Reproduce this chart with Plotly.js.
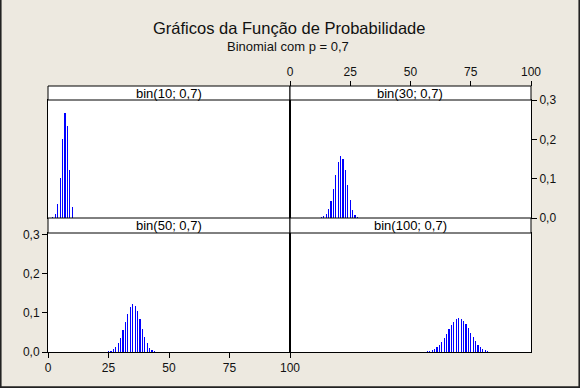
<!DOCTYPE html>
<html>
<head>
<meta charset="utf-8">
<script src="https://cdn.plot.ly/plotly-3.0.1.min.js"></script>
<style>html,body{margin:0;padding:0;background:#EDE9E0;}#chart{width:580px;height:388px;}</style>
</head>
<body>
<div id="chart"></div>
<script>
// ---- data ----
const k10 = [0,1,2,3,4,5,6,7,8,9,10];
const p10 = [0.0000059,0.000138,0.001447,0.009002,0.036757,0.102919,0.200121,0.266828,0.233474,0.121061,0.028248];

const k30 = [11,12,13,14,15,16,17,18,19,20,21,22,23,24,25,26,27,28,29,30];
const p30 = [0.000126,0.000464,0.001499,0.004246,0.010567,0.02312,0.04442,0.07485,0.11031,0.14156,0.15729,0.15014,0.12185,0.08293,0.04644,0.02084,0.007204,0.001801,0.00029,0.0000225];

const k50 = [23,24,25,26,27,28,29,30,31,32,33,34,35,36,37,38,39,40,41,42,43,44,45,46];
const p50 = [0.000226,0.000592,0.001436,0.003223,0.006684,0.01281,0.02268,0.03704,0.05575,0.07724,0.09831,0.11469,0.12234,0.11894,0.10501,0.08383,0.06018,0.03862,0.02198,0.01099,0.004771,0.001771,0.000551,0.00014];

const k100 = [55,56,57,58,59,60,61,62,63,64,65,66,67,68,69,70,71,72,73,74,75,76,77,78,79,80,81,82,83,84,85];
const p100 = [0.000549,0.001029,0.001853,0.003206,0.005325,0.00849,0.01299,0.01907,0.02684,0.0362,0.04678,0.05788,0.06854,0.07761,0.08398,0.08678,0.08556,0.08041,0.07196,0.06127,0.04956,0.03804,0.02767,0.01904,0.01237,0.007576,0.004365,0.00236,0.001194,0.000564,0.000248];

const panelLabels = ['bin(10; 0,7)','bin(30; 0,7)','bin(50; 0,7)','bin(100; 0,7)'];
const xTickVals = [0,25,50,75,100];
const xTickText = ['0','25','50','75','100'];
const yTickVals = [0,0.1,0.2,0.3];
const yTickText = ['0,0','0,1','0,2','0,3'];
const titleText = 'Gráficos da Função de Probabilidade';
const subtitleText = 'Binomial com p = 0,7';

// ---- geometry (pixels) ----
const W = 580, H = 388;
const px = v => v / W;
const py = v => 1 - v / H;
const xL = [px(48), px(290)], xR = [px(290), px(531)];
const yTop = [py(218), py(100)], yBot = [py(352), py(233)];

const FONT = 'Liberation Sans, Arial, sans-serif';
const BLUE = '#0000FF';
const barW = 0.5;

function bars(k, p, xa, ya) {
  return {type:'bar', x:k, y:p, xaxis:xa, yaxis:ya, width:barW,
          marker:{color:BLUE, line:{width:0}}, hoverinfo:'skip', showlegend:false};
}

const data = [
  bars(k10, p10, 'x3', 'y3'),
  bars(k30, p30, 'x4', 'y4'),
  bars(k50, p50, 'x', 'y'),
  bars(k100, p100, 'x2', 'y2'),
  // carrier for the top tick axis sitting above the strip
  {type:'scatter', x:[], y:[], xaxis:'x5', yaxis:'y4', mode:'markers', showlegend:false, hoverinfo:'skip'}
];

const baseAx = {showgrid:false, zeroline:false, showline:true, mirror:true,
                linecolor:'#000', linewidth:1, fixedrange:true,
                tickfont:{family:FONT, size:12, color:'#111'}};
const hidden = {ticks:'', showticklabels:false};
const xTicks = {ticks:'outside', ticklen:5, tickwidth:1, tickcolor:'#000',
                tickmode:'array', tickvals:xTickVals, ticktext:xTickText};
const yTicks = {ticks:'outside', ticklen:5, tickwidth:1, tickcolor:'#000',
                tickmode:'array', tickvals:yTickVals, ticktext:yTickText};

const layout = {
  width: W, height: H,
  margin:{l:0,r:0,t:0,b:0},
  paper_bgcolor:'#EDE9E0', plot_bgcolor:'#FFFFFF',
  bargap:0,
  showlegend:false,
  xaxis: Object.assign({}, baseAx, xTicks, {domain:xL, range:[0,100], anchor:'y', side:'bottom'}),
  yaxis: Object.assign({}, baseAx, yTicks, {domain:yBot, range:[0,0.305], anchor:'x', side:'left'}),
  xaxis2: Object.assign({}, baseAx, hidden, {domain:xR, range:[0,100], anchor:'y2'}),
  yaxis2: Object.assign({}, baseAx, hidden, {domain:yBot, range:[0,0.305], anchor:'x2'}),
  xaxis3: Object.assign({}, baseAx, hidden, {domain:xL, range:[0,100], anchor:'y3'}),
  yaxis3: Object.assign({}, baseAx, hidden, {domain:yTop, range:[0,0.3], anchor:'x3'}),
  xaxis4: Object.assign({}, baseAx, hidden, {domain:xR, range:[0,100], anchor:'y4'}),
  yaxis4: Object.assign({}, baseAx, yTicks, {domain:yTop, range:[0,0.3], anchor:'x4', side:'right'}),
  xaxis5: Object.assign({}, baseAx, xTicks, {domain:xR, range:[0,100], anchor:'free', position:py(86),
                        side:'top', overlaying:'x4', showline:false, mirror:false}),
  shapes: [
    {type:'rect', xref:'paper', yref:'paper', x0:xL[0], x1:xL[1], y0:py(100), y1:py(86), fillcolor:'#fff', line:{color:'#000', width:1}},
    {type:'rect', xref:'paper', yref:'paper', x0:xR[0], x1:xR[1], y0:py(100), y1:py(86), fillcolor:'#fff', line:{color:'#000', width:1}},
    {type:'rect', xref:'paper', yref:'paper', x0:xL[0], x1:xL[1], y0:py(233), y1:py(218), fillcolor:'#fff', line:{color:'#000', width:1}},
    {type:'rect', xref:'paper', yref:'paper', x0:xR[0], x1:xR[1], y0:py(233), y1:py(218), fillcolor:'#fff', line:{color:'#000', width:1}},
    {type:'line', xref:'paper', yref:'paper', x0:0.001, x1:0.001, y0:0, y1:1, line:{color:'#222', width:2}},
    {type:'line', xref:'paper', yref:'paper', x0:0.999, x1:0.999, y0:0, y1:1, line:{color:'#222', width:2}},
    {type:'line', xref:'paper', yref:'paper', x0:0, x1:1, y0:0.002, y1:0.002, line:{color:'#222', width:2}}
  ],
  annotations: [
    {text:titleText, xref:'paper', yref:'paper', x:px(289), y:py(28), xanchor:'center', yanchor:'middle', showarrow:false, font:{family:FONT, size:16.5, color:'#111'}},
    {text:subtitleText, xref:'paper', yref:'paper', x:px(288), y:py(46), xanchor:'center', yanchor:'middle', showarrow:false, font:{family:FONT, size:13, color:'#111'}},
    {text:panelLabels[0], xref:'paper', yref:'paper', x:(xL[0]+xL[1])/2, y:py(93), xanchor:'center', yanchor:'middle', showarrow:false, font:{family:FONT, size:13, color:'#000'}},
    {text:panelLabels[1], xref:'paper', yref:'paper', x:(xR[0]+xR[1])/2, y:py(93), xanchor:'center', yanchor:'middle', showarrow:false, font:{family:FONT, size:13, color:'#000'}},
    {text:panelLabels[2], xref:'paper', yref:'paper', x:(xL[0]+xL[1])/2, y:py(225.5), xanchor:'center', yanchor:'middle', showarrow:false, font:{family:FONT, size:13, color:'#000'}},
    {text:panelLabels[3], xref:'paper', yref:'paper', x:(xR[0]+xR[1])/2, y:py(225.5), xanchor:'center', yanchor:'middle', showarrow:false, font:{family:FONT, size:13, color:'#000'}}
  ]
};

Plotly.newPlot('chart', data, layout, {staticPlot:true, displayModeBar:false});
</script>
</body>
</html>
